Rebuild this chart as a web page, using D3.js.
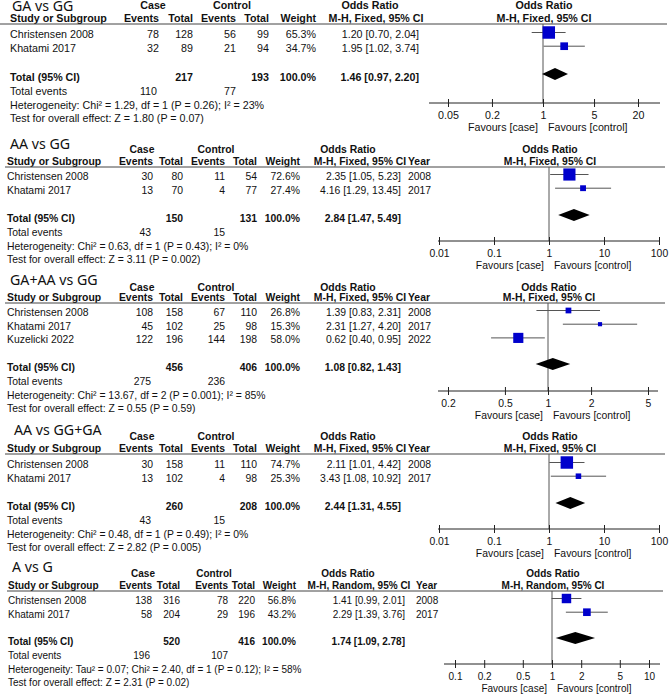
<!DOCTYPE html>
<html>
<head>
<meta charset="utf-8">
<script src="https://cdn.jsdelivr.net/npm/d3@7"></script>
<style>
  body { margin: 0; background: #fff; }
  svg { display: block; }
  text { font-family: "Liberation Sans", Arial, sans-serif; fill: #111; }
  .title { font-family: "Noto Sans", "Open Sans", sans-serif; font-size: 14.2px; }
  .b { font-weight: bold; }
</style>
</head>
<body>
<div id="chart"></div>
<script>
// data
const panelTitles = ["GA vs GG", "AA vs GG", "GA+AA vs GG", "AA vs GG+GA", "A vs G"];
const studyNames = [
  ["Christensen 2008", "Khatami 2017"],
  ["Christensen 2008", "Khatami 2017"],
  ["Christensen 2008", "Khatami 2017", "Kuzelicki 2022"],
  ["Christensen 2008", "Khatami 2017"],
  ["Christensen 2008", "Khatami 2017"]
];
const studyYears = [[], ["2008", "2017"], ["2008", "2017", "2022"], ["2008", "2017"], ["2008", "2017"]];
const caseEvents = [[78, 32], [30, 13], [108, 45, 122], [30, 13], [138, 58]];
const caseTotals = [[128, 89], [80, 70], [158, 102, 196], [158, 102], [316, 204]];
const ctrlEvents = [[56, 21], [11, 4], [67, 25, 144], [11, 4], [78, 29]];
const ctrlTotals = [[99, 94], [54, 77], [110, 98, 198], [110, 98], [220, 196]];
const weights = [[65.3, 34.7], [72.6, 27.4], [26.8, 15.3, 58.0], [74.7, 25.3], [56.8, 43.2]];
const oddsRatios = [[1.20, 1.95], [2.35, 4.16], [1.39, 2.31, 0.62], [2.11, 3.43], [1.41, 2.29]];
const ciLower = [[0.70, 1.02], [1.05, 1.29], [0.83, 1.27, 0.40], [1.01, 1.08], [0.99, 1.39]];
const ciUpper = [[2.04, 3.74], [5.23, 13.45], [2.31, 4.20, 0.95], [4.42, 10.92], [2.01, 3.76]];
const pooledCaseTotal = [217, 150, 456, 260, 520];
const pooledCtrlTotal = [193, 131, 406, 208, 416];
const pooledOR = [1.46, 2.84, 1.08, 2.44, 1.74];
const pooledLower = [0.97, 1.47, 0.82, 1.31, 1.09];
const pooledUpper = [2.20, 5.49, 1.43, 4.55, 2.78];
const eventsCase = [110, 43, 275, 43, 196];
const eventsCtrl = [77, 15, 236, 15, 107];
const heterogeneity = [
  "Heterogeneity: Chi² = 1.29, df = 1 (P = 0.26); I² = 23%",
  "Heterogeneity: Chi² = 0.63, df = 1 (P = 0.43); I² = 0%",
  "Heterogeneity: Chi² = 13.67, df = 2 (P = 0.001); I² = 85%",
  "Heterogeneity: Chi² = 0.48, df = 1 (P = 0.49); I² = 0%",
  "Heterogeneity: Tau² = 0.07; Chi² = 2.40, df = 1 (P = 0.12); I² = 58%"
];
const overallEffect = [
  "Test for overall effect: Z = 1.80 (P = 0.07)",
  "Test for overall effect: Z = 3.11 (P = 0.002)",
  "Test for overall effect: Z = 0.55 (P = 0.59)",
  "Test for overall effect: Z = 2.82 (P = 0.005)",
  "Test for overall effect: Z = 2.31 (P = 0.02)"
];
const methods = ["M-H, Fixed, 95% CI", "M-H, Fixed, 95% CI", "M-H, Fixed, 95% CI", "M-H, Fixed, 95% CI", "M-H, Random, 95% CI"];
const axisTicks = [
  [0.05, 0.2, 1, 5, 20],
  [0.01, 0.1, 1, 10, 100],
  [0.2, 0.5, 1, 2, 5],
  [0.01, 0.1, 1, 10, 100],
  [0.1, 0.2, 0.5, 1, 2, 5, 10]
];

// layout of each panel (pixel positions)
const colsA = {study: 10, ce: 159, ct: 193, te: 236, tt: 269, w: 316, or: 419, yr: null, caseC: 153, ctrlC: 232, orH: 370, mhH: 376};
const colsB = {study: 7, ce: 153, ct: 183, te: 225, tt: 257, w: 300, or: 401, yr: 408, caseC: 142, ctrlC: 216, orH: 348, mhH: 360};
const colsC = {study: 8, ce: 152, ct: 180, te: 228, tt: 255, w: 296, or: 405, yr: 416, caseC: 143, ctrlC: 214, orH: 348, mhH: 359};
const layout = [
  {title: 11, group: 9, head: 22, line: 24, lineX: [0, 667], row0: 38, total: 81, axis: 103, cols: colsA, fs: 10.7,
   dom: [0.05, 20], rng: [448, 638], axisX: [429, 660], sq: 1.12, tx: 12},
  {title: 149, group: 153, head: 165, line: 167, lineX: [5, 665], row0: 180, total: 222, axis: 241, cols: colsB, fs: 10.4,
   dom: [0.01, 100], rng: [439, 659], axisX: [438, 659], sq: 1, tx: 10},
  {title: 285, group: 291, head: 301, line: 303, lineX: [5, 665], row0: 316, total: 371, axis: 391, cols: colsB, fs: 10.4,
   dom: [0.2, 5], rng: [448, 648], axisX: [438, 658], sq: 1, tx: 10},
  {title: 435, group: 440, head: 452, line: 454, lineX: [5, 665], row0: 468, total: 510, axis: 529, cols: colsB, fs: 10.4,
   dom: [0.01, 100], rng: [439, 659], axisX: [438, 659], sq: 1, tx: 14},
  {title: 572, group: 577, head: 589, line: 591, lineX: [7, 663], row0: 604, total: 645, axis: 664, cols: colsC, fs: 10.0,
   dom: [0.1, 10], rng: [455, 649], axisX: [444, 660], sq: 0.95, tx: 12}
];

const svg = d3.select("#chart").append("svg")
  .attr("width", 669)
  .attr("height", 697);
svg.append("rect").attr("width", 669).attr("height", 697).attr("fill", "#fff");

const sizeScale = d3.scaleLinear().domain([0, 100]).range([2, 16]);
const f2 = d3.format(".2f");

layout.forEach(function (L, p) {
  const g = svg.append("g").attr("font-size", L.fs + "px");
  const c = L.cols;

  function txt(x, y, s, anchor, cls) {
    return g.append("text").attr("x", x).attr("y", y)
      .attr("text-anchor", anchor || "start")
      .attr("class", cls || null)
      .text(s);
  }

  // title + headers
  txt(L.tx, L.title, panelTitles[p], "start", "title");
  txt(c.caseC, L.group, "Case", "middle", "b");
  txt(c.ctrlC, L.group, "Control", "middle", "b");
  txt(c.orH, L.group, "Odds Ratio", "middle", "b");
  txt(c.study, L.head, "Study or Subgroup", "start", "b");
  txt(c.ce, L.head, "Events", "end", "b");
  txt(c.ct, L.head, "Total", "end", "b");
  txt(c.te, L.head, "Events", "end", "b");
  txt(c.tt, L.head, "Total", "end", "b");
  txt(c.w, L.head, "Weight", "end", "b");
  txt(c.mhH, L.head, methods[p], "middle", "b");
  if (c.yr) txt(c.yr, L.head, "Year", "start", "b");

  const x = d3.scaleLog().domain(L.dom).range(L.rng);
  const x1 = x(1);
  txt(x1 + 1, L.group, "Odds Ratio", "middle", "b");
  txt(x1 + 1, L.head, methods[p], "middle", "b");

  g.append("line")
    .attr("x1", L.lineX[0]).attr("x2", L.lineX[1])
    .attr("y1", L.line).attr("y2", L.line)
    .attr("stroke", "#444").attr("stroke-width", 1);

  // study rows
  studyNames[p].forEach(function (name, i) {
    const y = L.row0 + i * 13.7;
    txt(c.study, y, name);
    txt(c.ce, y, caseEvents[p][i], "end");
    txt(c.ct, y, caseTotals[p][i], "end");
    txt(c.te, y, ctrlEvents[p][i], "end");
    txt(c.tt, y, ctrlTotals[p][i], "end");
    txt(c.w, y, weights[p][i].toFixed(1) + "%", "end");
    txt(c.or, y, `${f2(oddsRatios[p][i])} [${f2(ciLower[p][i])}, ${f2(ciUpper[p][i])}]`, "end");
    if (c.yr) txt(c.yr, y, studyYears[p][i]);
  });

  // total rows
  txt(c.study, L.total, "Total (95% CI)", "start", "b");
  txt(c.ct, L.total, pooledCaseTotal[p], "end", "b");
  txt(c.tt, L.total, pooledCtrlTotal[p], "end", "b");
  txt(c.w, L.total, "100.0%", "end", "b");
  txt(c.or, L.total, `${f2(pooledOR[p])} [${f2(pooledLower[p])}, ${f2(pooledUpper[p])}]`, "end", "b");
  txt(c.study, L.total + 13.5, "Total events");
  txt(c.ce - 2, L.total + 13.5, eventsCase[p], "end");
  txt(c.te, L.total + 13.5, eventsCtrl[p], "end");
  txt(c.study, L.total + 27.5, heterogeneity[p]);
  txt(c.study, L.total + 41, overallEffect[p]);

  // forest plot
  g.append("line")
    .attr("x1", x1).attr("x2", x1)
    .attr("y1", L.line).attr("y2", L.axis)
    .attr("stroke", "#555").attr("stroke-width", 1);

  const rows = studyNames[p].map((d, i) => ({
    y: L.row0 + i * 13.7 - 5.5,
    or: oddsRatios[p][i], lo: ciLower[p][i], hi: ciUpper[p][i], w: weights[p][i]
  }));

  g.selectAll(null).data(rows).enter().append("line")
    .attr("x1", d => x(d.lo)).attr("x2", d => x(d.hi))
    .attr("y1", d => d.y).attr("y2", d => d.y)
    .attr("stroke", "#555").attr("stroke-width", 1);

  g.selectAll(null).data(rows).enter().append("rect")
    .attr("x", d => x(d.or) - sizeScale(d.w) * L.sq / 2)
    .attr("y", d => d.y - sizeScale(d.w) * L.sq / 2)
    .attr("width", d => sizeScale(d.w) * L.sq)
    .attr("height", d => sizeScale(d.w) * L.sq)
    .attr("fill", "#0000cc");

  const dy = L.total - 7;
  g.append("path")
    .attr("d", `M${x(pooledLower[p])},${dy} L${x(pooledOR[p])},${dy - 6} L${x(pooledUpper[p])},${dy} L${x(pooledOR[p])},${dy + 6} Z`)
    .attr("fill", "#000");

  // axis
  g.append("line")
    .attr("x1", L.axisX[0]).attr("x2", L.axisX[1])
    .attr("y1", L.axis).attr("y2", L.axis)
    .attr("stroke", "#222").attr("stroke-width", 1);

  const ax = g.append("g")
    .attr("transform", `translate(0, ${L.axis})`)
    .call(d3.axisBottom(x).tickValues(axisTicks[p]).tickFormat(d => String(d))
      .tickSizeInner(4).tickSizeOuter(0).tickPadding(4.5));
  ax.select(".domain").remove();
  ax.selectAll(".tick line").attr("y1", -4).attr("y2", 4).attr("stroke", "#222");
  ax.selectAll(".tick text")
    .attr("font-family", "Liberation Sans, Arial, sans-serif")
    .attr("font-size", L.fs + "px").attr("fill", "#111");

  txt(x1 - 5, L.axis + 28, "Favours [case]", "end");
  txt(x1 + 5, L.axis + 28, "Favours [control]", "start");
});
</script>
</body>
</html>
